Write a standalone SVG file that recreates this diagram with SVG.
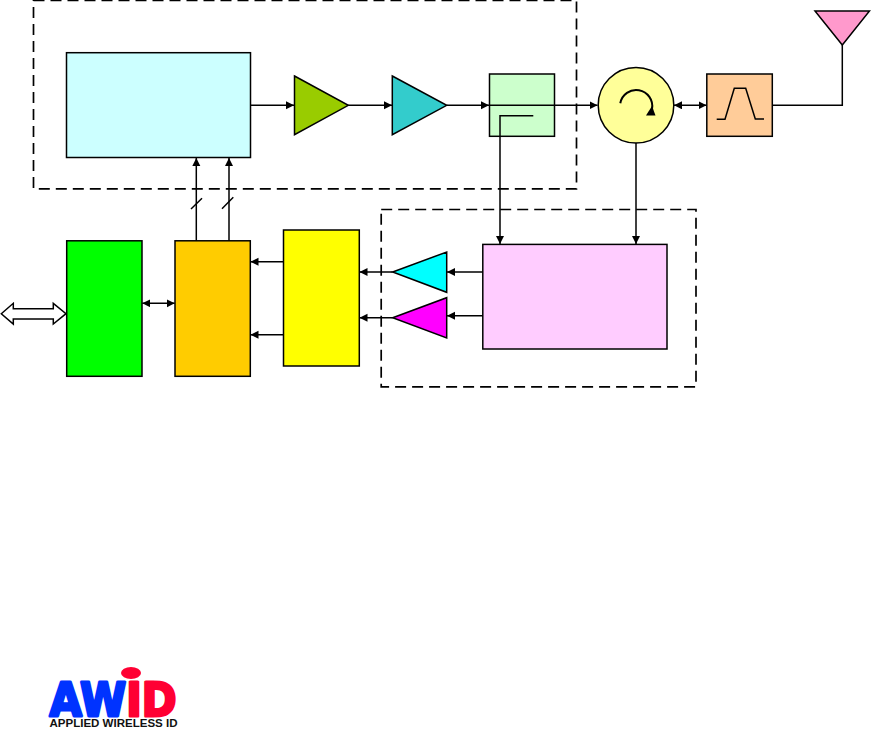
<svg xmlns="http://www.w3.org/2000/svg" width="871" height="729" viewBox="0 0 871 729">
<defs>
<marker id="ah" markerUnits="userSpaceOnUse" markerWidth="9" markerHeight="9" refX="8" refY="4" orient="auto-start-reverse"><path d="M0 0L8 4L0 8Z" fill="#000"/></marker>
</defs>
<style>
.n{stroke:#000;stroke-width:1.5}
.l{fill:none;stroke:#000;stroke-width:1.5}
.a{marker-end:url(#ah)}
.b{marker-start:url(#ah);marker-end:url(#ah)}
.d{fill:none;stroke:#000;stroke-width:1.7;stroke-dasharray:11 6}
</style>
<rect width="871" height="729" fill="#fff"/>
<g id="frames">
<rect class="d" x="33.5" y="0.5" width="543" height="188.3"/>
<rect class="d" x="381.2" y="209.5" width="314.8" height="177.3"/>
</g>
<g id="source"><rect class="n" x="66.5" y="52.7" width="184" height="104.8" fill="#ccffff"/></g>
<g id="amp1"><path class="n" d="M294.5 76L348.3 105.3L294.5 134.7Z" fill="#99cc00"/></g>
<g id="amp2"><path class="n" d="M392.3 76L446.7 105.3L392.3 134.7Z" fill="#33cccc"/></g>
<g id="coupler"><rect class="n" x="489.5" y="74" width="65" height="62.3" fill="#ccffcc"/></g>
<g id="circulator"><circle class="n" cx="636" cy="105.3" r="37.8" fill="#ffff99"/>
<path d="M620.3 103.3A16 16 0 1 1 652 109" fill="none" stroke="#000" stroke-width="2"/><path d="M646 115.5L655.5 115.5L652 106Z" fill="#000"/></g>
<g id="filter"><rect class="n" x="706.8" y="74" width="65.5" height="62.3" fill="#ffcc99"/>
<path class="l" d="M716.7 119.3H725L734.3 88.3H745.7L755.3 119H764"/></g>
<g id="antenna"><path class="n" d="M815 11H869.5L842.3 45Z" fill="#ff99cc"/></g>
<g id="detector"><rect class="n" x="482.8" y="244.4" width="184.2" height="104.6" fill="#ffccff"/></g>
<g id="ampI"><path class="n" d="M392.7 272L446.7 252V292.3Z" fill="#00ffff"/></g>
<g id="ampQ"><path class="n" d="M392.7 317.7L446.7 297.7V338Z" fill="#ff00ff"/></g>
<g id="adc"><rect class="n" x="283.5" y="230" width="75.8" height="136" fill="#ffff00"/></g>
<g id="dsp"><rect class="n" x="175" y="240.8" width="75.3" height="135.5" fill="#ffcc00"/></g>
<g id="mcu"><rect class="n" x="66.7" y="240.8" width="75.3" height="135.5" fill="#00ff00"/></g>
<g id="bus"><path class="n" d="M1.3 313.7L13.3 303.3V308.7H53.3V303.3L66 313.7L53.3 324V319H13.3V324Z" fill="#fff"/></g>
<g id="connectors">
<path class="l a" d="M250.5 105.3H294"/>
<path class="l a" d="M348.3 105.3H392"/>
<path class="l a" d="M446.7 105.3H489"/>
<path class="l a" d="M489 105.3H597.5"/>
<path class="l b" d="M674 105.3H706.5"/>
<path class="l" d="M772.3 105.3H842.3V45"/>
<path class="l a" d="M533.3 115.7H500V244"/>
<path class="l a" d="M636 143V244"/>
<path class="l a" d="M482.8 272H447"/>
<path class="l a" d="M482.8 315.7H447"/>
<path class="l a" d="M392.7 272H359.5"/>
<path class="l a" d="M392.7 317.7H359.5"/>
<path class="l a" d="M283.5 261.7H250.5"/>
<path class="l a" d="M283.5 334.7H250.5"/>
<path class="l b" d="M142.3 303.3H174.7"/>
<path class="l a" d="M196.3 240.8V158"/>
<path class="l a" d="M229 240.8V158"/>
<path class="l" d="M191 209L202 198.3M222 208.7L233.3 197.3"/>
</g>
<g id="logo">
<text x="49.5" y="716" font-family="'DejaVu Sans',sans-serif" font-weight="700" font-size="47" fill="#0033ff" stroke-width="3" stroke-linejoin="round" stroke="#0033ff" textLength="127" lengthAdjust="spacingAndGlyphs">AW<tspan fill="#ff0033" stroke="#ff0033">ID</tspan></text>
<ellipse cx="131" cy="673" rx="10" ry="6" fill="#ff0033"/>
<text x="49.5" y="726.5" font-family="'Liberation Sans',Arial,sans-serif" font-weight="700" font-size="11.5" fill="#111" textLength="128" lengthAdjust="spacingAndGlyphs">APPLIED WIRELESS ID</text>
</g>
</svg>
